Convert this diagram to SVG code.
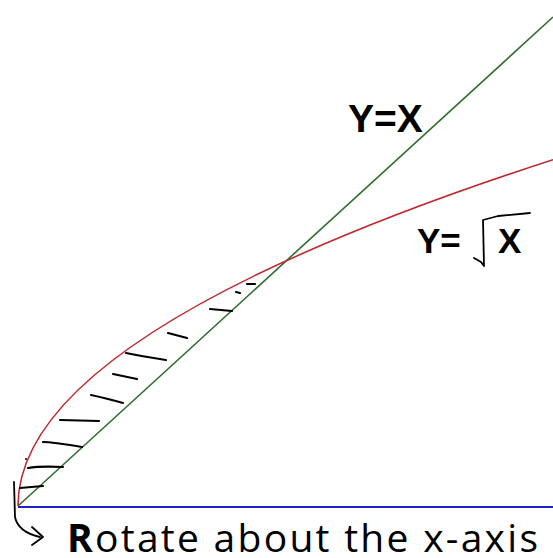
<svg xmlns="http://www.w3.org/2000/svg" width="553" height="558" viewBox="0 0 553 558">
<style>
.lbl{font-family:"Liberation Sans",Arial,sans-serif;font-weight:bold;fill:#000}
.cap{font-family:"Open Sans","Liberation Sans",sans-serif;fill:#000}
.hatch{stroke:#000;stroke-width:2.2;fill:none;stroke-linecap:round}
.ink{stroke:#000;stroke-width:1.8;fill:none;stroke-linecap:round;stroke-linejoin:round}
</style>
<rect width="553" height="558" fill="#fff"/>
<g id="connectors">
<line id="x-axis" x1="18" y1="507" x2="553" y2="507" stroke="#2222c8" stroke-width="2"/>
<line id="y-eq-x" x1="18" y1="506" x2="553" y2="17" stroke="#2e6e2e" stroke-width="1.6"/>
<path id="y-eq-sqrtx" d="M18,506 Q18,332.8 553,159.7" stroke="#c0282f" stroke-width="1.6" fill="none"/>
</g>
<g id="hatching">
<path class="hatch" d="M20,488 L43,486"/>
<path class="hatch" d="M28,468 Q40,466 63,467"/>
<path class="hatch" d="M43,442 Q52,442 82,447"/>
<path class="hatch" d="M60,420 L99,421"/>
<path class="hatch" d="M91,395 Q105,398 123,403"/>
<path class="hatch" d="M113,374 L137,379"/>
<path class="hatch" d="M126,353 Q140,356 166,360"/>
<path class="hatch" d="M168,333 L187,338"/>
<path class="hatch" d="M210,309 L232,311"/>
<path class="hatch" d="M236,292 L240,293"/>
<path class="hatch" d="M247,284 L255,284"/>
<circle cx="26" cy="459" r="1" fill="#000"/>
</g>
<g id="label-yx">
<text class="lbl" x="348" y="132" font-size="39">Y=X</text>
</g>
<g id="label-ysqrtx">
<text class="lbl" x="417" y="253" font-size="35">Y=</text>
<path class="ink" d="M474,258 L481,262 L484,266 L483,220 L498,216 L530,213"/>
<text class="lbl" x="498" y="253" font-size="35">X</text>
</g>
<g id="label-rotate">
<path class="ink" d="M14,482 L15,517 Q18,532 40,537"/>
<path class="ink" d="M32,527 L43,537 L32,545"/>
<text class="cap" x="67" y="552" font-size="39" textLength="471" lengthAdjust="spacing"><tspan font-weight="bold">R</tspan>otate about the x-axis</text>
</g>
</svg>
